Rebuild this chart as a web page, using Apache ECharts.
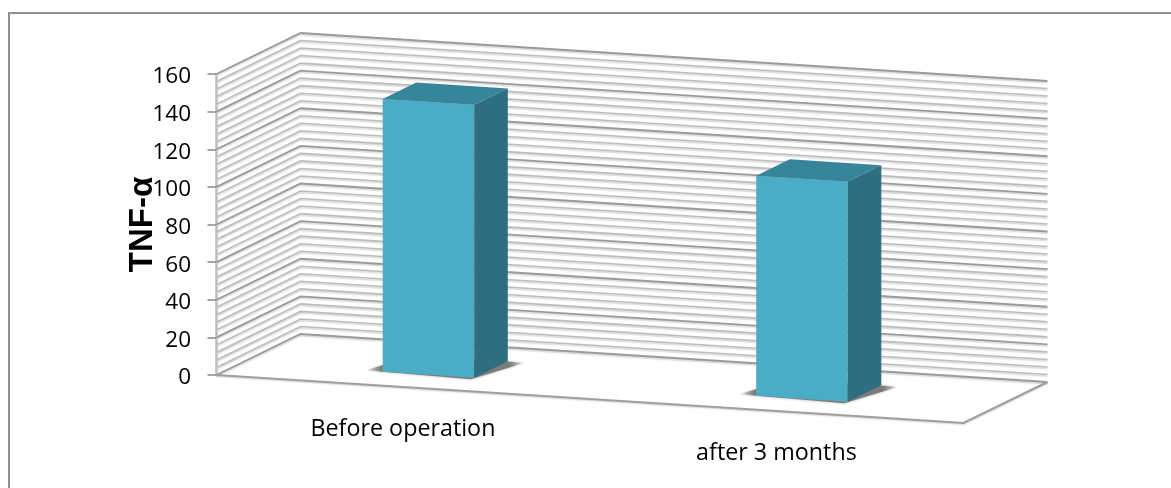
<!DOCTYPE html>
<html>
<head>
<meta charset="utf-8">
<style>html,body{margin:0;padding:0;background:#fff}#chart{width:1171px;height:488px}</style>
<script src="https://cdn.jsdelivr.net/npm/echarts@6/dist/echarts.min.js"></script>
</head>
<body>
<div id="chart"></div>
<script>
const categories = ['Before operation', 'after 3 months'];
const tnfValues = [145, 117];
const axisMax = 160;
const majorStep = 20;
const minorStep = 4;
const gridValues = [];
for (let v = 0; v <= axisMax; v += minorStep) gridValues.push(v);

// Oblique projection of the box: floor runs downhill to the right, depth goes up and right.
const GRID = { left: 216.5, top: 74, width: 747, height: 301 };
const DEPTH = [84, -41];
const FLOOR_SLOPE = 48 / 747;
const BAR_WIDTH = 0.245;      // share of a category band
const BAR_DEPTH = [0.30, 0.70];

function project(pt, d) {
  return [
    pt[0] + DEPTH[0] * d,
    pt[1] + (pt[0] - GRID.left) * FLOOR_SLOPE + DEPTH[1] * d
  ];
}

function renderWall(params, api) {
  const v = api.value(0);
  const left = api.coord([0, v]);
  const start = [GRID.left, left[1]];
  const end = [GRID.left + GRID.width, left[1]];
  const major = v % majorStep === 0;
  return {
    type: 'polyline',
    silent: true,
    shape: { points: [project(start, 0), project(start, 1), project(end, 1)] },
    style: {
      fill: null,
      stroke: major ? '#9a9a9a' : '#bcbcbc',
      lineWidth: major ? 1.8 : 1.6,
      shadowColor: '#d4d4d4',
      shadowBlur: 1.5,
      shadowOffsetY: 1.5
    }
  };
}

function renderFloor(params, api) {
  const base = api.coord([0, 0])[1];
  const a = [GRID.left, base];
  const b = [GRID.left + GRID.width, base];
  return {
    type: 'polyline',
    silent: true,
    shape: { points: [project(a, 0), project(b, 0), project(b, 1)] },
    style: { fill: null, stroke: '#9f9f9f', lineWidth: 2, shadowColor: '#d4d4d4', shadowBlur: 1.5, shadowOffsetY: 1 }
  };
}

function renderBar(params, api) {
  const idx = api.value(0);
  const top = api.coord([idx, api.value(1)]);
  const base = api.coord([idx, 0]);
  const band = api.size([1, 0])[0];
  const half = band * BAR_WIDTH / 2;
  const [d0, d1] = BAR_DEPTH;
  const corner = (x, y, d) => project([x, y], d);
  const xl = top[0] - half, xr = top[0] + half;
  const poly = (pts, fill) => ({
    type: 'polygon', silent: true, shape: { points: pts }, style: { fill: fill }
  });
  // Contact shadow on the floor, fading out to both sides of the foot of the bar.
  const shade = {
    type: 'polygon', silent: true,
    shape: { points: [
      corner(xl - 18, base[1], d0 + 0.01), corner(xr, base[1], d0 - 0.04),
      corner(xr + 18, base[1], d1 - 0.01), corner(xl, base[1], d1)
    ] },
    style: {
      fill: {
        type: 'linear', x: 0, y: 0, x2: 1, y2: 0,
        colorStops: [
          { offset: 0, color: 'rgba(120,120,120,0)' },
          { offset: 0.1, color: 'rgba(120,120,120,0.95)' },
          { offset: 0.9, color: 'rgba(120,120,120,0.95)' },
          { offset: 1, color: 'rgba(120,120,120,0)' }
        ]
      },
      shadowBlur: 3,
      shadowColor: 'rgba(120,120,120,0.6)'
    }
  };
  return {
    type: 'group',
    children: [
      shade,
      poly([corner(xl, base[1], d0), corner(xr, base[1], d0), corner(xr, top[1], d0), corner(xl, top[1], d0)], '#4BACC6'),
      poly([corner(xr, base[1], d0), corner(xr, base[1], d1), corner(xr, top[1], d1), corner(xr, top[1], d0)], '#2F6E80'),
      poly([corner(xl, top[1], d0), corner(xr, top[1], d0), corner(xr, top[1], d1), corner(xl, top[1], d1)], '#37859B')
    ]
  };
}

const chart = echarts.init(document.getElementById('chart'), null, { renderer: 'canvas' });
chart.setOption({
  animation: false,
  backgroundColor: '#fff',
  graphic: [{
    type: 'polyline',
    silent: true,
    shape: { points: [[9, 488], [9, 13], [1171, 13]] },
    style: { fill: null, stroke: '#8f8f8f', lineWidth: 2 }
  }],
  grid: { left: GRID.left, top: GRID.top, width: GRID.width, height: GRID.height },
  xAxis: {
    type: 'category',
    data: categories,
    axisLine: { show: false },
    axisTick: { show: false },
    axisLabel: { show: false }
  },
  yAxis: {
    type: 'value',
    min: 0,
    max: axisMax,
    interval: majorStep,
    name: 'TNF-α',
    nameLocation: 'middle',
    nameGap: 57,
    nameMoveOverlap: false,
    nameTextStyle: { fontFamily: 'Liberation Sans', fontWeight: 'bold', fontSize: 33, color: '#000' },
    axisLine: { show: true, lineStyle: { color: '#bdbdbd', width: 2.5 } },
    axisTick: { show: true, length: 9, lineStyle: { color: '#8a8a8a', width: 1.5 } },
    axisLabel: { fontFamily: 'Open Sans', fontSize: 22.5, color: '#000', margin: 25.5, verticalAlign: 'top', lineHeight: 6 },
    splitLine: { show: false }
  },
  series: [
    { type: 'custom', coordinateSystem: 'cartesian2d', renderItem: renderWall, data: gridValues.map(v => [v]), encode: { y: 0 }, z: 1 },
    { type: 'custom', coordinateSystem: 'cartesian2d', renderItem: renderFloor, data: [[0]], encode: { y: 0 }, z: 1 },
    {
      type: 'custom', coordinateSystem: 'cartesian2d', renderItem: renderBar,
      data: tnfValues.map((v, i) => [i, v]), encode: { x: 0, y: 1 }, z: 3
    },
    // Category names hang below the front floor edge, following its slope.
    {
      type: 'custom', coordinateSystem: 'cartesian2d', z: 3,
      data: categories.map((c, i) => [i, 0]), encode: { x: 0, y: 1 },
      renderItem(params, api) {
        const idx = api.value(0);
        const p = project(api.coord([idx, 0]), 0.3);
        return {
          type: 'text', silent: true,
          style: {
            x: p[0] - 25.5, y: p[1] + 55, text: categories[idx], align: 'center', verticalAlign: 'middle',
            fontFamily: 'Open Sans', fontSize: 23.3, fill: '#000'
          }
        };
      }
    }
  ]
});
</script>
</body>
</html>
